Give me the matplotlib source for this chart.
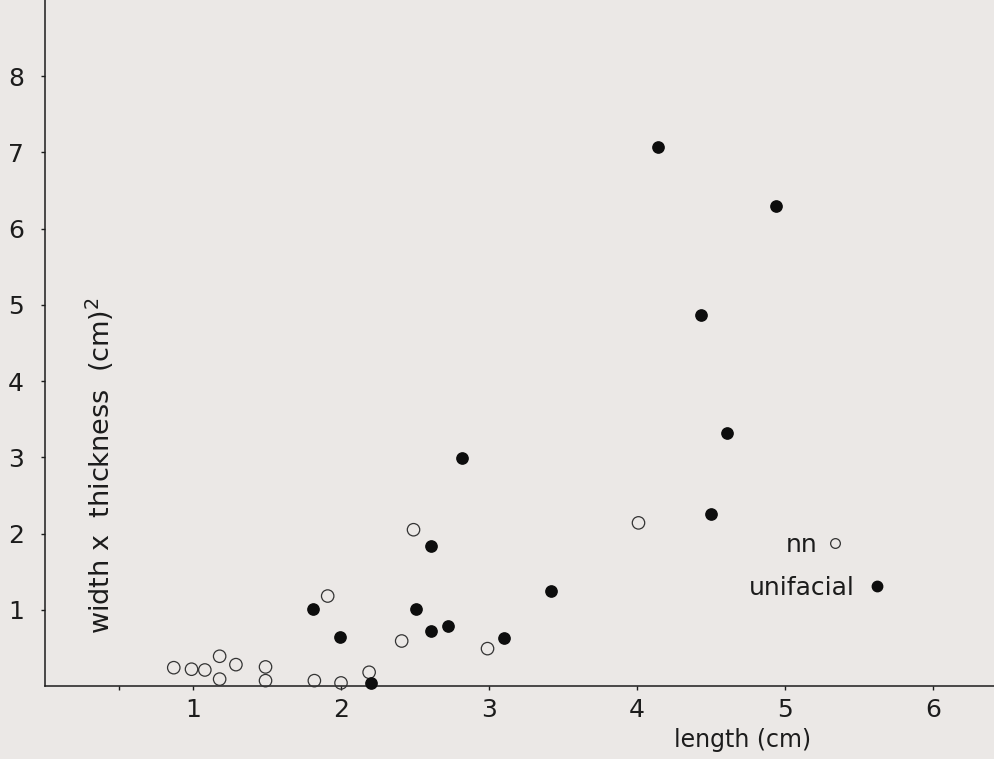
import matplotlib.pyplot as plt
from matplotlib.lines import Line2D

# nn (open circles)
nn_x = [0.87, 0.99, 1.08, 1.18, 1.18, 1.29, 1.49, 1.49, 1.82, 1.91, 2.00, 2.19, 2.41, 2.49, 2.99, 4.01]
nn_y = [0.24, 0.22, 0.21, 0.39, 0.09, 0.28, 0.25, 0.07, 0.07, 1.18, 0.04, 0.18, 0.59, 2.05, 0.49, 2.14]

# unifacial (filled dots)
uni_x = [1.81, 1.99, 2.20, 2.51, 2.61, 2.72, 2.82, 2.61, 3.10, 3.42, 4.14, 4.94, 4.43, 4.61, 4.50]
uni_y = [1.01, 0.64, 0.04, 1.01, 0.72, 0.79, 2.99, 1.84, 0.63, 1.25, 7.07, 6.30, 4.87, 3.32, 2.26]

x_ticks = [1, 2, 3, 4, 5, 6]
y_ticks = [1, 2, 3, 4, 5, 6, 7, 8]

bg = '#ebe8e6'
ink = '#1c1c1c'
fs = 18

plt.rcParams['font.family'] = ['DejaVu Sans']

fig = plt.figure(figsize=(9.94, 7.59), dpi=100, facecolor=bg)
ax = fig.add_axes([0, 0, 1, 1], facecolor=bg)

ax.scatter(nn_x, nn_y, s=80, facecolors='none', edgecolors='#333333', linewidths=0.9, zorder=3)
ax.scatter(uni_x, uni_y, s=66, color='#0d0d0d', zorder=3)

ax.set_xlim(-0.304, 6.412)
ax.set_ylim(-0.958, 9.0)

for side in ['top', 'right']:
    ax.spines[side].set_visible(False)
ax.spines['left'].set_position(('data', 0))
ax.spines['bottom'].set_position(('data', 0))
ax.spines['left'].set_bounds(0, 9.0)
ax.spines['bottom'].set_bounds(0, 6.412)
for side in ['left', 'bottom']:
    ax.spines[side].set_color(ink)
    ax.spines[side].set_linewidth(1.1)

ax.set_xticks(x_ticks)
ax.set_yticks(y_ticks)
ax.set_xticks([0.5], minor=True)
ax.tick_params(axis='both', which='both', direction='out', length=3, width=1,
               color=ink, labelcolor=ink, labelsize=fs)
ax.tick_params(axis='y', pad=12)
ax.tick_params(axis='x', pad=6)

ax.set_xlabel('length (cm)', fontsize=17, color=ink)
ax.xaxis.set_label_coords(0.747, 0.025)
ax.xaxis.label.set_va('center')
ax.set_ylabel('width x  thickness  (cm)$^2$', fontsize=19.5, color=ink)
ax.yaxis.set_label_coords(0.10, 0.387)
ax.yaxis.label.set_va('center')

h_nn = Line2D([], [], linestyle='none', marker='o', markersize=7,
              markerfacecolor='none', markeredgecolor='#333333', markeredgewidth=0.9)
h_uni = Line2D([], [], linestyle='none', marker='o', markersize=7.5, color='#0d0d0d')

leg1 = ax.legend([h_nn], ['nn'], markerfirst=False, frameon=False, fontsize=fs,
                 loc='center right', bbox_to_anchor=(0.863, 0.282),
                 handlelength=0.8, handletextpad=0.3, borderpad=0, labelcolor=ink)
ax.add_artist(leg1)
ax.legend([h_uni], ['unifacial'], markerfirst=False, frameon=False, fontsize=fs,
          loc='center right', bbox_to_anchor=(0.905, 0.225),
          handlelength=0.8, handletextpad=0.5, borderpad=0, labelcolor=ink)

fig.savefig('out.png', dpi=100, facecolor=bg)
